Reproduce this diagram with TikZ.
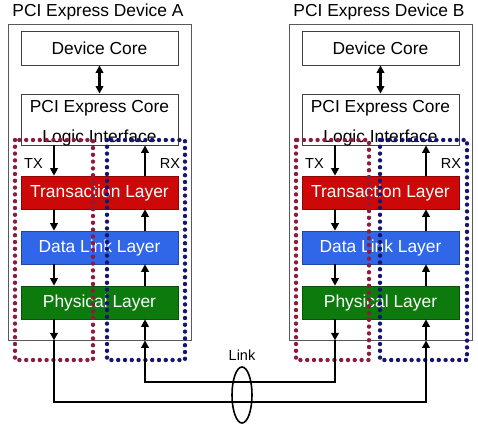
\documentclass[tikz,border=0pt]{standalone}
\usepackage{fontspec}
\setmainfont{Liberation Sans}
\usetikzlibrary{arrows.meta,shapes.geometric}

\definecolor{tlred}{RGB}{204,8,8}
\definecolor{dlblue}{RGB}{48,102,232}
\definecolor{phgreen}{RGB}{12,122,12}
\definecolor{txdot}{RGB}{140,28,62}
\definecolor{rxdot}{RGB}{22,22,110}

\tikzset{
  devbox/.style={draw=black!65,line width=0.8pt,inner sep=0pt},
  corebox/.style={draw=black!75,line width=0.8pt,inner sep=0pt,minimum width=157pt},
  layer/.style={fill=#1,draw=#1!70!black,line width=0.6pt,text=white,inner sep=0pt,
    minimum width=157pt,minimum height=33pt,font=\fontsize{17.4}{20}\selectfont},
  big/.style={font=\fontsize{17.4}{20}\selectfont},
  small/.style={font=\fontsize{14.5}{17}\selectfont},
  arr/.style={line width=2.2pt,-{Triangle[length=7.5pt,width=7.5pt]}},
  dblarr/.style={line width=2.2pt,{Triangle[length=7.5pt,width=7.5pt]}-{Triangle[length=7.5pt,width=7.5pt]}},
  wire/.style={line width=2.6pt},
  dotzone/.style={draw=#1,line width=4.4pt,line cap=round,dash pattern=on 0pt off 6.8pt},
}

% #1 name, #2 shift, #3 tx zone right, #4 rx zone left, #5 rx zone right
\newcommand{\pciedevice}[5]{
  \begin{scope}[xshift=#2pt]
  \node[big,anchor=base] (title#1) at (98,17) {PCI Express Device #1};
  \node[devbox,minimum width=183pt,minimum height=316pt] (dev#1) at (99.5,182) {};
  \node[corebox,big,minimum height=34pt] (core#1) at (99.5,48) {Device Core};
  \node[corebox,minimum height=51pt] (pcie#1) at (99.5,119.5) {};
  \node[big,anchor=base] (pcietop#1) at (99.5,112.5) {PCI Express Core};
  \node[big,anchor=base] (pcibot#1) at (99.5,142) {Logic Interface};

  \node[layer=tlred] (tl#1) at (99.5,192.5) {Transaction Layer};
  \node[layer=dlblue] (dl#1) at (99.5,247.5) {Data Link Layer};
  \node[layer=phgreen] (ph#1) at (99.5,302.5) {Physical Layer};

  \node[small,anchor=base] (txlabel#1) at (33.5,168) {TX};
  \node[small,anchor=base] (rxlabel#1) at (170,168) {RX};

  \coordinate (tx#1) at (54,0);
  \coordinate (rx#1) at (145,0);

  \draw[dblarr] (core#1) -- (pcie#1);
  \foreach \a/\b in {pcie#1/tl#1, tl#1/dl#1, dl#1/ph#1} {
    \draw[arr] (\a.south -| tx#1) -- (\b.north -| tx#1);
    \draw[arr] (\b.north -| rx#1) -- (\a.south -| rx#1);
  }
  \draw[arr] (ph#1.south -| tx#1) -- (dev#1.south -| tx#1);
  \draw[arr] (dev#1.south -| rx#1) -- (ph#1.south -| rx#1);

  \draw[dotzone=txdot] (15,140) rectangle (#3,360);
  \draw[dotzone=rxdot] (#4,140) rectangle (#5,360);
  \end{scope}
}

\begin{document}
\begin{tikzpicture}[x=1pt,y=-1pt]
  \useasboundingbox (0,0) rectangle (478,428);

  \pciedevice{A}{0}{93}{107}{185}
  \pciedevice{B}{281}{88}{99}{186}

  % the link between both devices
  \coordinate (lowlane) at (242,402);
  \coordinate (highlane) at (242,382);
  \draw[arr,wire] (devA.south -| txA) |- (lowlane) -| (devB.south -| rxB);
  \draw[arr,wire] (devB.south -| txB) |- (highlane) -| (devA.south -| rxA);

  \node[draw,ellipse,line width=1.6pt,inner sep=0pt,minimum width=20pt,minimum height=56pt] (ring) at (242,395) {};
  \node[small] (linklabel) at (242,355) {Link};
\end{tikzpicture}
\end{document}
